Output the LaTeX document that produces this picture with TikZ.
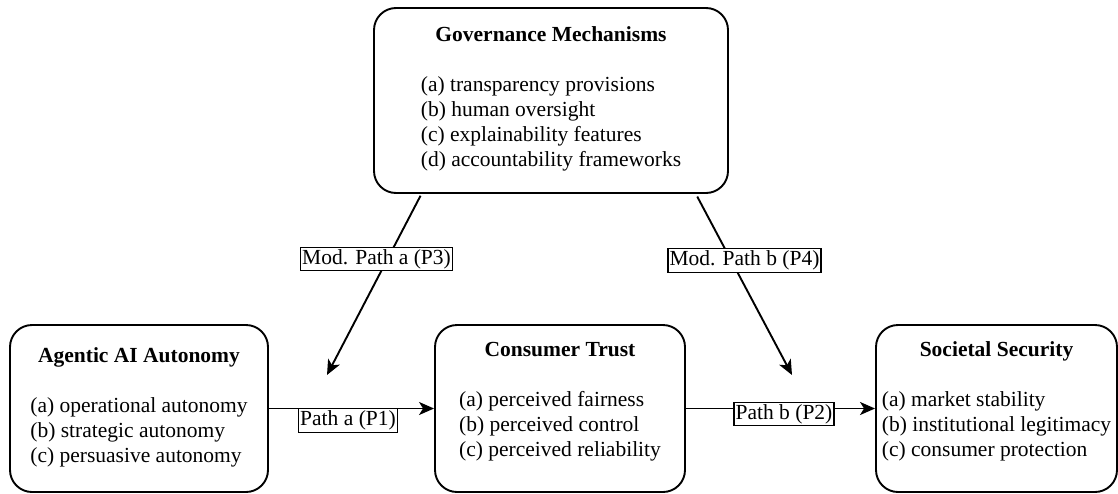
\documentclass[tikz,border=0pt]{standalone}
\usepackage{fontspec}
\setmainfont{Liberation Serif}
\usepackage{tikz}
\usetikzlibrary{calc,arrows.meta}

\begin{document}
\begin{tikzpicture}[x=1pt, y=-1pt, line width=1.9pt,
    box/.style = {draw, rounded corners=22pt, align=center, inner sep=0pt,
        font=\fontsize{21.5}{25}\selectfont},
    lbl/.style = {draw, fill=white, line width=1.3pt, inner xsep=1.5pt, inner ysep=2pt,
        font=\fontsize{21.5}{25}\selectfont},
    arr/.style = {-{Stealth[length=15pt, width=13pt, inset=4pt]}}]
    \useasboundingbox (0,0) rectangle (1118,493);

    \node [box, minimum width=354pt, minimum height=185pt] (gov) at (551, 100.5)
        {\textbf{Governance Mechanisms}\\[25pt]\begin{tabular}[t]{@{}l@{}}(a) transparency provisions\\(b) human oversight\\(c) explainability features\\(d) accountability frameworks\end{tabular}};
    \node [box, minimum width=258pt, minimum height=167pt] (auto) at (139, 408.5)
        {\textbf{Agentic AI Autonomy}\\[25pt]\begin{tabular}[t]{@{}l@{}}(a) operational autonomy\\(b) strategic autonomy\\(c) persuasive autonomy\end{tabular}};
    \node [box, minimum width=250pt, minimum height=167pt] (trust) at (560, 408.5)
        {\textbf{Consumer Trust}\\[25pt]\begin{tabular}[t]{@{}l@{}}(a) perceived fairness\\(b) perceived control\\(c) perceived reliability\end{tabular}\\[10pt]};
    \node [box, minimum width=241pt, minimum height=167pt] (soc) at (996.5, 408.5)
        {\textbf{Societal Security}\\[25pt]\begin{tabular}[t]{@{}l@{}}(a) market stability\\(b) institutional legitimacy\\(c) consumer protection\end{tabular}\\[10pt]};

    \coordinate (tipA) at (327, 375);
    \coordinate (tipB) at (792, 375);

    \draw[arr] (auto) --  (trust);
    \draw[arr] (trust) --  (soc);
    \draw[arr, shorten <=2pt] ($(gov.south west)!0.136!(gov.south east)$) --  (tipA);
    \draw[arr, shorten <=3pt] ($(gov.south west)!0.907!(gov.south east)$) --  (tipB);

    \node [lbl] (p1) at (348, 420.5) {Path a (P1)};
    \node [lbl] (p2) at (784, 414) {Path b (P2)};
    \node [lbl] (p3) at (376.5, 259) {Mod. Path a (P3)};
    \node [lbl] (p4) at (744.5, 260.5) {Mod. Path b (P4)};

\end{tikzpicture}
\end{document}
